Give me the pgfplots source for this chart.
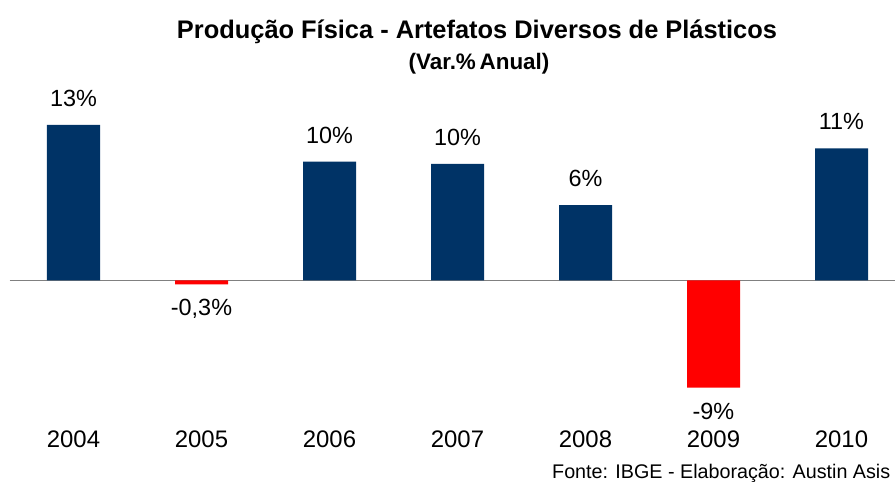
\documentclass[border=0pt]{standalone}
\usepackage{pgfplots}
\pgfplotsset{compat=1.18}
\usepackage{pgfplotstable}
\usepackage{fontspec}
\setmainfont{Liberation Sans}
\definecolor{navy}{RGB}{0,51,102}
\definecolor{zline}{RGB}{128,128,128}

\pgfplotstableread{
x y label
0 13.0 13\%
2 9.93 10\%
3 9.74 10\%
4 6.31 6\%
6 11.05 11\%
}\pos
\pgfplotstableread{
x y label
1 -0.32 -0,3\%
5 -8.95 -9\%
}\negv

\begin{document}
\begin{tikzpicture}
\useasboundingbox (0bp,0bp) rectangle (895bp,482bp);
\clip (0bp,0bp) rectangle (895bp,482bp);
\begin{axis}[
  at={(73.5bp,201.5bp)}, anchor=origin,
  scale only axis, width=896bp, height=311bp,
  xmin=-0.5, xmax=6.5, ymin=-10, ymax=16,
  axis line style={draw=none},
  ytick=\empty,
  xtick={0,1,2,3,4,5,6},
  xticklabels={2004,2005,2006,2007,2008,2009,2010},
  major tick length=0pt,
  xticklabel style={anchor=base, inner sep=0pt, yshift=-47bp, font=\fontsize{24}{26}\selectfont},
  extra y ticks={0}, extra y tick labels={},
  extra y tick style={grid=major, major grid style={zline, line width=1.3bp}, major tick length=0pt},
  ybar, bar width=53bp, bar shift=0pt,
  clip=false,
]
\addplot[fill=navy, draw=none,
  nodes near coords, point meta=explicit symbolic,
  every node near coord/.append style={anchor=base, inner sep=0pt, yshift=18.5bp, font=\fontsize{23.5}{26}\selectfont, text=black}]
  table[x=x, y=y, meta=label] {\pos};
\addplot[fill=red, draw=none,
  nodes near coords, point meta=explicit symbolic,
  every node near coord/.append style={anchor=north, inner sep=0pt, yshift=-15bp, font=\fontsize{23.5}{26}\selectfont, text=black}]
  table[x=x, y=y, meta=label] {\negv};
\end{axis}
\node[anchor=base, inner sep=0pt, font=\bfseries\fontsize{25.5}{28}\selectfont] at (477bp,443.7bp) {Produção Física - Artefatos Diversos de Plásticos};
\node[anchor=base, inner sep=0pt, font=\bfseries\fontsize{22.5}{25}\selectfont] at (479bp,412bp) {(Var.\%\,Anual)};
\node[anchor=base west, inner sep=0pt, font=\fontsize{19.8}{22}\selectfont] at (552bp,4bp) {Fonte: IBGE - Elaboração: Austin Asis};
\end{tikzpicture}
\end{document}
